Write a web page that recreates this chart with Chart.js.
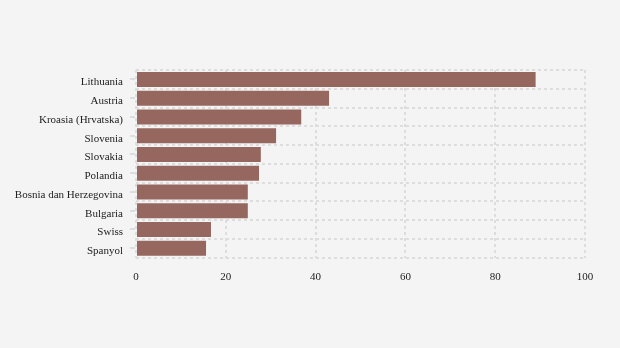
<!DOCTYPE html>
<html>
<head>
<meta charset="utf-8">
<script src="https://cdn.jsdelivr.net/npm/chart.js@4"></script>
<style>
html,body{margin:0;padding:0;background:#f4f4f4;}
#wrap{width:620px;height:348px;}
</style>
</head>
<body>
<div id="wrap"><canvas id="c" width="620" height="348"></canvas></div>
<script>
const categories = ["Lithuania","Austria","Kroasia (Hrvatska)","Slovenia","Slovakia","Polandia","Bosnia dan Herzegovina","Bulgaria","Swiss","Spanyol"];
const values = [89, 43, 36.8, 31.2, 27.8, 27.4, 24.9, 24.9, 16.7, 15.6];
const xTicks = [0, 20, 40, 60, 80, 100];

const gridColor = '#dddddd';
const font = {family: '"Liberation Serif", "Times New Roman", serif', size: 11};

const tickMarks = {
  id: 'tickMarks',
  afterDraw(chart) {
    const y = chart.scales.y;
    const ctx = chart.ctx;
    ctx.save();
    ctx.strokeStyle = gridColor;
    ctx.lineWidth = 2;
    ctx.setLineDash([]);
    for (let i = 0; i < categories.length; i++) {
      const py = Math.round(y.getPixelForTick(i));
      ctx.beginPath();
      ctx.moveTo(y.right - 6, py);
      ctx.lineTo(y.right - 1, py);
      ctx.stroke();
    }
    ctx.restore();
  }
};

new Chart(document.getElementById('c'), {
  type: 'bar',
  data: {
    labels: categories,
    datasets: [{
      data: values,
      backgroundColor: '#96675f',
      borderWidth: 0,
      barPercentage: 0.8,
      categoryPercentage: 1
    }]
  },
  plugins: [tickMarks],
  options: {
    indexAxis: 'y',
    responsive: false,
    animation: false,
    devicePixelRatio: 1,
    layout: {padding: {top: 70, right: 35, left: 0, bottom: 0}},
    plugins: {legend: {display: false}, tooltip: {enabled: false}},
    scales: {
      x: {
        min: 0, max: 100,
        afterBuildTicks(scale) { scale.ticks = xTicks.map(v => ({value: v})); },
        afterFit(scale) { scale.height = 90.5; },
        grid: {color: gridColor, lineWidth: 2, drawTicks: false, tickLength: 0},
        border: {display: false, dash: [3, 3]},
        ticks: {font: font, color: '#222', padding: 13}
      },
      y: {
        afterFit(scale) { scale.width = 136; },
        grid: {color: gridColor, lineWidth: 2, offset: true, drawTicks: false, tickLength: 0},
        border: {display: false, dash: [3, 3]},
        ticks: {font: font, color: '#222', padding: 13, labelOffset: 3}
      }
    }
  }
});
</script>
</body>
</html>
